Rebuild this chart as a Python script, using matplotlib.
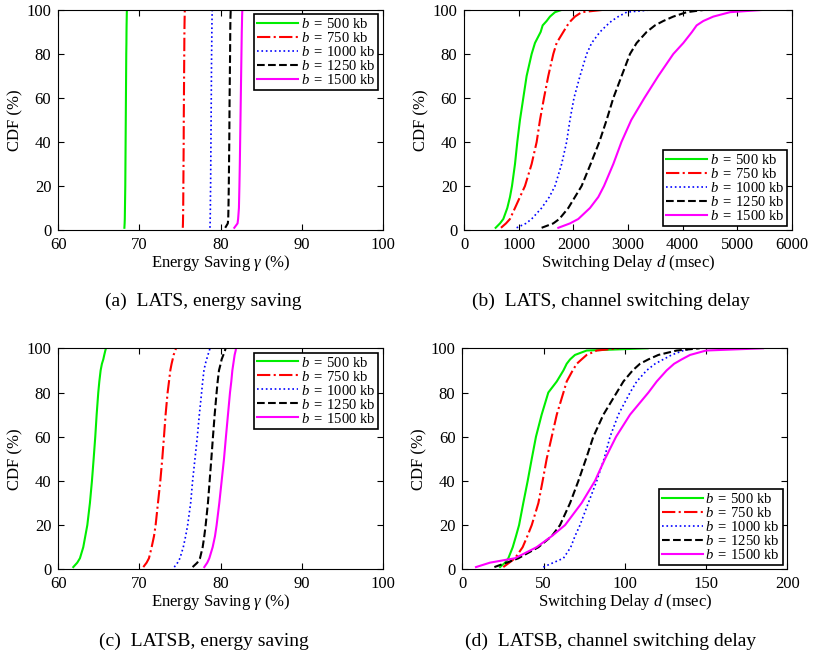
import matplotlib
matplotlib.use('Agg')
import matplotlib.pyplot as plt

plt.rcParams['font.family'] = ['Liberation Serif', 'DejaVu Serif']
plt.rcParams['mathtext.fontset'] = 'custom'
plt.rcParams['mathtext.rm'] = 'Liberation Serif'
plt.rcParams['mathtext.it'] = 'Liberation Serif:italic'

# buffer sizes (kb)
buffers = [500, 750, 1000, 1250, 1500]
colors = ['#00ee00', '#ff0000', '#0000ff', '#000000', '#ff00ff']
styles = ['-', '-.', ':', '--', '-']
widths = [1.5, 1.5, 1.2, 1.5, 1.5]

# CDF levels (%) shared by all curves
cdf = [1, 3, 5, 10, 15, 20, 30, 40, 50, 60, 70, 80, 85, 90, 93, 95, 97, 99, 100]

# (a) LATS, energy saving (%)
lats_energy = {
    500: [68.15, 68.18, 68.2, 68.22, 68.24, 68.26, 68.28, 68.3, 68.32, 68.34,
          68.36, 68.38, 68.4, 68.41, 68.42, 68.43, 68.44, 68.45, 68.46],
    750: [75.35, 75.37, 75.38, 75.4, 75.41, 75.42, 75.44, 75.46, 75.47, 75.49,
          75.51, 75.53, 75.54, 75.55, 75.56, 75.57, 75.58, 75.59, 75.6],
    1000: [78.7, 78.72, 78.73, 78.75, 78.76, 78.78, 78.8, 78.82, 78.84, 78.86,
           78.88, 78.9, 78.92, 78.93, 78.94, 78.95, 78.96, 78.97, 78.98],
    1250: [80.58, 80.9, 80.95, 80.98, 81.0, 81.02, 81.05, 81.08, 81.1, 81.12,
           81.15, 81.18, 81.19, 81.2, 81.21, 81.22, 81.23, 81.25, 81.26],
    1500: [81.7, 82.1, 82.17, 82.27, 82.3, 82.33, 82.38, 82.42, 82.46, 82.5,
           82.54, 82.58, 82.6, 82.62, 82.64, 82.65, 82.66, 82.68, 82.69],
}

# (b) LATS, channel switching delay (msec)
lats_delay = {
    500: [574, 654, 715, 788, 837, 874, 929, 971, 1020, 1081,
          1142, 1234, 1295, 1399, 1436, 1509, 1570, 1662, 1780],
    750: [672, 764, 837, 929, 1020, 1112, 1234, 1326, 1387, 1460,
          1539, 1631, 1692, 1814, 1888, 1949, 2028, 2150, 2520],
    1000: [959, 1130, 1234, 1417, 1558, 1662, 1784, 1875, 1936, 2010,
           2120, 2242, 2334, 2486, 2608, 2700, 2822, 2975, 3400],
    1250: [1417, 1631, 1741, 1906, 2028, 2150, 2315, 2474, 2608, 2731,
           2883, 3036, 3158, 3341, 3494, 3647, 3830, 4075, 4380],
    1500: [1723, 1937, 2089, 2303, 2456, 2560, 2731, 2880, 3060, 3300,
           3555, 3830, 4014, 4172, 4258, 4380, 4563, 4869, 5450],
}

# (c) LATSB, energy saving (%)
latsb_energy = {
    500: [61.85, 62.34, 62.67, 63.08, 63.33, 63.58, 63.90, 64.15, 64.36, 64.56,
          64.73, 64.93, 65.06, 65.22, 65.38, 65.55, 65.67, 65.80, 65.88],
    750: [70.48, 70.89, 71.18, 71.51, 71.80, 72.00, 72.29, 72.58, 72.82, 73.03,
          73.23, 73.48, 73.65, 73.81, 73.97, 74.10, 74.22, 74.43, 74.51],
    1000: [74.30, 74.71, 75.00, 75.41, 75.70, 75.95, 76.32, 76.56, 76.85, 77.14,
           77.39, 77.67, 77.80, 77.96, 78.13, 78.29, 78.45, 78.62, 78.70],
    1250: [76.56, 77.14, 77.47, 77.80, 78.00, 78.17, 78.45, 78.66, 78.87, 79.07,
           79.28, 79.52, 79.65, 79.81, 80.02, 80.14, 80.35, 80.55, 80.63],
    1500: [78.00, 78.37, 78.62, 79.03, 79.32, 79.52, 79.85, 80.14, 80.43, 80.67,
           80.92, 81.17, 81.33, 81.46, 81.58, 81.66, 81.74, 81.87, 81.91],
}

# (d) LATSB, channel switching delay (msec)
latsb_delay = {
    500: [23.2, 26.3, 28.3, 31.0, 33.0, 34.9, 37.5, 40.2, 42.7, 45.3,
          48.8, 52.9, 58.1, 62.2, 64.2, 66.3, 69.3, 76.5, 114.0],
    750: [25.2, 28.9, 32.4, 37.1, 40.0, 42.7, 46.8, 49.4, 51.9, 55.0,
          58.1, 62.2, 64.2, 67.9, 70.4, 73.4, 76.5, 82.7, 96.0],
    1000: [49.8, 56.0, 62.2, 66.7, 69.3, 72.4, 77.5, 82.7, 87.2, 90.9,
           96.0, 103.2, 107.3, 113.4, 118.6, 123.7, 128.8, 136.0, 142.0],
    1250: [19.7, 27.3, 34.5, 46.8, 55.0, 60.1, 66.3, 71.4, 76.1, 80.6,
           86.8, 95.0, 99.1, 104.8, 109.3, 114.5, 120.6, 131.9, 146.0],
    1500: [8.4, 17.0, 32.4, 45.7, 55.0, 63.2, 73.4, 81.6, 87.8, 94.6,
           103.2, 114.5, 119.6, 125.7, 130.3, 135.0, 140.1, 150.0, 185.0],
}

panels = [
    (lats_energy, [0.0716, 0.6478, 0.3986, 0.3369], (60, 100), [60, 70, 80, 90, 100],
     r'Energy Saving $\gamma$ (%)', 'upper right', '(a)  LATS, energy saving'),
    (lats_delay, [0.5704, 0.6478, 0.4022, 0.3369], (0, 6000), [0, 1000, 2000, 3000, 4000, 5000, 6000],
     r'Switching Delay $d$ (msec)', 'lower right', '(b)  LATS, channel switching delay'),
    (latsb_energy, [0.0716, 0.1282, 0.3986, 0.3384], (60, 100), [60, 70, 80, 90, 100],
     r'Energy Saving $\gamma$ (%)', 'upper right', '(c)  LATSB, energy saving'),
    (latsb_delay, [0.568, 0.1282, 0.3993, 0.3384], (0, 200), [0, 50, 100, 150, 200],
     r'Switching Delay $d$ (msec)', 'lower right', '(d)  LATSB, channel switching delay'),
]

fig = plt.figure(figsize=(8.14, 6.53), dpi=100)

for data, pos, xlim, xticks, xlabel, loc, caption in panels:
    ax = fig.add_axes(pos)
    for b, c, ls, lw in zip(buffers, colors, styles, widths):
        ax.plot(data[b], cdf, color=c, linestyle=ls, lw=lw,
                label=r'$b\;=\;%d$ kb' % b)
    ax.set_xlim(*xlim)
    ax.set_ylim(0, 100)
    ax.set_xticks(xticks)
    ax.set_yticks([0, 20, 40, 60, 80, 100])
    ax.tick_params(direction='in', top=True, right=True, labelsize=12,
                   length=4, width=0.8, pad=5)
    ax.set_xlabel(xlabel, fontsize=12, labelpad=0)
    ax.set_ylabel('CDF (%)', fontsize=12, labelpad=2)
    for sp in ax.spines.values():
        sp.set_linewidth(0.8)
    leg = ax.legend(loc=loc, fontsize=10.5, fancybox=False, edgecolor='black',
                    framealpha=1, handlelength=2.8, handletextpad=0.2,
                    labelspacing=0.0, borderpad=0.2, borderaxespad=0.3)
    leg.get_frame().set_linewidth(1.2)
    cx = 0.25 if pos[0] < 0.5 else 0.75
    cy = pos[1] - 0.11 if pos[1] > 0.5 else 0.018
    fig.text(cx, cy, caption, ha='center', va='center', fontsize=14)

fig.savefig('out.png', dpi=100)
